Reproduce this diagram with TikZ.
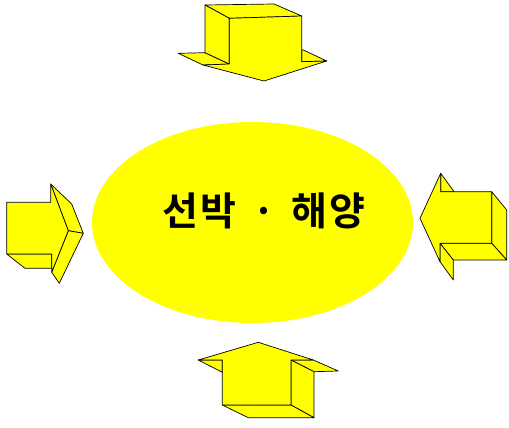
\documentclass[tikz,border=0pt]{standalone}
\usepackage{fontspec}
\newfontfamily\krfont{Noto Sans CJK KR}[BoldFont={Noto Sans CJK KR Bold}]
\definecolor{BlockYellow}{RGB}{255,255,0}
\usetikzlibrary{shapes.geometric}

\begin{document}
\begin{tikzpicture}[x=1pt, y=-1pt,
        face/.style={fill=BlockYellow, draw=black, line width=0.7pt, line join=round},
        hub/.style={ellipse, fill=BlockYellow, minimum width=321pt, minimum height=201pt, inner sep=0pt},
        hubtext/.style={font=\krfont\bfseries\fontsize{39}{46}\selectfont, text=black}
      ]
        \useasboundingbox (0,0) rectangle (509,428);

        % centre
        \node[hub] (hub) at (252.5,222.5) {};
        \node[hubtext] (title) at (264,211) {선\hspace{0.06em}박\hspace{0.4em}·\hspace{0.4em}해\hspace{0.06em}양};

        % top arrow (pointing down)
        \draw[face] (178.3,53.3) -- (205,52.7) -- (229.3,64) -- (203,65) -- cycle;
        \draw[face] (301.7,50) -- (303.3,50) -- (326.7,61) -- (301.7,61.7) -- cycle;
        \draw[face] (205,5) -- (274,4) -- (301.7,16) -- (229.3,18.3) -- cycle;
        \draw[face] (205,5) -- (229.3,18.3) -- (229.3,64) -- (205,52.7) -- cycle;
        \draw[face] (229.3,18.3) -- (301.7,16) -- (301.7,61.7) -- (326.7,61)
                    -- (264,81) -- (203,65) -- (229.3,64) -- cycle;

        % left arrow (pointing right)
        \draw[face] (6.7,254) -- (25,268.3) -- (51.7,268.3) -- (51.7,254) -- cycle;
        \draw[face] (50.7,184) -- (71.7,204) -- (83.3,233.3) -- (68.3,230.7) -- cycle;
        \draw[face] (68.3,230.7) -- (83.3,233.3) -- (59.3,283.3) -- (51.7,272.3) -- cycle;
        \draw[face] (6.7,202.3) -- (50.7,202.3) -- (50.7,184) -- (68.3,230.7)
                    -- (51.7,272.3) -- (51.7,254) -- (6.7,254) -- cycle;

        % right arrow (pointing left)
        \draw[face] (440.7,173.3) -- (454,191.7) -- (440.7,191.7) -- cycle;
        \draw[face] (491.7,191.7) -- (506.7,210) -- (506.7,260) -- (491.7,243.3) -- cycle;
        \draw[face] (440,243.3) -- (491.7,243.3) -- (506.7,260) -- (453.3,260) -- cycle;
        \draw[face] (440,243.3) -- (453.3,260) -- (453.3,280) -- (440,261.7) -- cycle;
        \draw[face] (420,218.3) -- (440.7,173.3) -- (440.7,191.7) -- (491.7,191.7)
                    -- (491.7,243.3) -- (440,243.3) -- (440,261.7) -- cycle;

        % bottom arrow (pointing up)
        \draw[face] (291,360) -- (313.3,360) -- (338.3,371) -- (314,371.7) -- cycle;
        \draw[face] (291,360) -- (314,371.7) -- (314,417.7) -- (291,405) -- cycle;
        \draw[face] (222.3,405) -- (291,405) -- (314,417.7) -- (248.3,417.7) -- cycle;
        \draw[face] (198.3,360) -- (222.3,360) -- (222.3,372.3) -- cycle;
        \draw[face] (258.3,342.3) -- (313.3,360) -- (291,360) -- (291,405)
                    -- (222.3,405) -- (222.3,360) -- (198.3,360) -- cycle;
      \end{tikzpicture}
\end{document}
